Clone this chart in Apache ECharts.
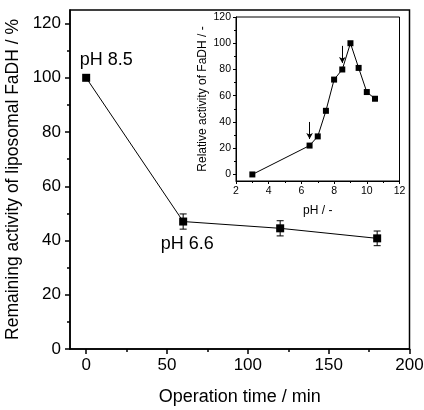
<!DOCTYPE html>
<html>
<head>
<meta charset="utf-8">
<script src="https://cdn.jsdelivr.net/npm/echarts@6/dist/echarts.min.js"></script>
<style>
html, body { margin: 0; padding: 0; background: #fff; }
#chart { width: 424px; height: 410px; }
</style>
</head>
<body>
<div id="chart"></div>
<script>
// main plot: remaining activity vs operation time
var timeMin = [0, 60, 120, 180];
var remaining = [100, 47, 44.5, 40.8];
var remainingErr = [0, 2.8, 2.8, 2.7];
var pointLabels = ['pH 8.5', 'pH 6.6', '', ''];

// inset: relative activity vs pH
var pH = [3, 6.5, 7, 7.5, 8, 8.5, 9, 9.5, 10, 10.5];
var relActivity = [0, 22, 29, 48.5, 72.3, 80, 100, 81.2, 62.8, 57.7];
var arrowPH = [6.5, 8.5];

// ticks
var mainXTicks = [0, 50, 100, 150, 200];
var mainXMinor = [25, 75, 125, 175];
var mainYTicks = [0, 20, 40, 60, 80, 100, 120];
var mainYMinor = [10, 30, 50, 70, 90, 110];
var insetXTicks = [2, 4, 6, 8, 10, 12];
var insetXMinor = [3, 5, 7, 9, 11];
var insetYTicks = [0, 20, 40, 60, 80, 100, 120];
var insetYMinor = [10, 30, 50, 70, 90, 110];

var FONT = '"Liberation Sans", Arial, sans-serif';

function axis(dim, grid, min, max, ticks, fs, nfs, margin, tickLen, name, nameGap) {
    return {
        type: 'value', gridIndex: grid, min: min, max: max,
        position: dim == 'x' ? 'bottom' : 'left',
        name: name, nameLocation: 'middle', nameGap: nameGap,
        nameTextStyle: { fontFamily: FONT, fontSize: nfs, color: '#000' },
        axisLine: { show: true, onZero: false, lineStyle: { color: '#000', width: grid == 0 ? 1.5 : 1 } },
        axisTick: { show: true, inside: false, length: tickLen, customValues: ticks,
            lineStyle: { color: '#000', width: grid == 0 ? 1.5 : 1 } },
        axisLabel: { show: true, customValues: ticks, margin: margin,
            fontFamily: FONT, fontSize: fs, color: '#000' },
        splitLine: { show: false }
    };
}
// second axis just for the short minor ticks
function minorAxis(dim, grid, min, max, ticks, tickLen) {
    return {
        type: 'value', gridIndex: grid, min: min, max: max,
        position: dim == 'x' ? 'bottom' : 'left',
        axisLine: { show: false, onZero: false },
        axisTick: { show: true, inside: false, length: tickLen, customValues: ticks,
            lineStyle: { color: '#000', width: grid == 0 ? 1.5 : 1 } },
        axisLabel: { show: false },
        splitLine: { show: false }
    };
}

var mainData = timeMin.map(function (t, i) {
    var item = { value: [t, remaining[i]] };
    if (pointLabels[i]) {
        item.label = {
            show: true, formatter: pointLabels[i],
            position: i == 0 ? 'top' : 'bottom',
            offset: i == 0 ? [20, 0] : [4, 4],
            fontFamily: FONT, fontSize: 18, color: '#000'
        };
    }
    return item;
});

var errData = [];
for (var i = 0; i < timeMin.length; i++) {
    if (remainingErr[i] > 0) {
        errData.push([timeMin[i], remaining[i] - remainingErr[i], remaining[i] + remainingErr[i]]);
    }
}

function renderErr(params, api) {
    var x = api.value(0);
    var lo = api.coord([x, api.value(1)]);
    var hi = api.coord([x, api.value(2)]);
    var w = 3.5;
    var st = { stroke: '#000', lineWidth: 1 };
    return {
        type: 'group',
        children: [
            { type: 'line', shape: { x1: hi[0], y1: hi[1], x2: lo[0], y2: lo[1] }, style: st },
            { type: 'line', shape: { x1: hi[0] - w, y1: hi[1], x2: hi[0] + w, y2: hi[1] }, style: st },
            { type: 'line', shape: { x1: lo[0] - w, y1: lo[1], x2: lo[0] + w, y2: lo[1] }, style: st }
        ]
    };
}

var arrows = arrowPH.map(function (p) {
    var v = relActivity[pH.indexOf(p)];
    return [{ coord: [p, v + 18] }, { coord: [p, v + 5] }];
});

var chart = echarts.init(document.getElementById('chart'));
chart.setOption({
    animation: false,
    backgroundColor: '#fff',
    grid: [
        { left: 70, right: 14.5, top: 10, bottom: 61, outerBoundsMode: 'none', show: true, borderColor: '#000', borderWidth: 1.5, backgroundColor: 'transparent' },
        { left: 236, right: 24.5, top: 17, bottom: 229, outerBoundsMode: 'none', show: true, borderColor: '#000', borderWidth: 1, backgroundColor: '#fff' }
    ],
    xAxis: [
        axis('x', 0, -10, 200, mainXTicks, 17, 18, 8, 5, 'Operation time / min', 39),
        minorAxis('x', 0, -10, 200, mainXMinor, 3),
        axis('x', 1, 2, 12, insetXTicks, 10.5, 12, 5, 3, 'pH / -', 24),
        minorAxis('x', 1, 2, 12, insetXMinor, 2)
    ],
    yAxis: [
        axis('y', 0, 0, 125, mainYTicks, 17, 17.5, 9, 5, 'Remaining activity of liposomal FaDH / %', 39),
        minorAxis('y', 0, 0, 125, mainYMinor, 3),
        axis('y', 1, -5, 120, insetYTicks, 10.5, 12, 5, 3, 'Relative activity of FaDH / -', 27),
        minorAxis('y', 1, -5, 120, insetYMinor, 2)
    ],
    series: [
        {
            type: 'custom', xAxisIndex: 0, yAxisIndex: 0,
            renderItem: renderErr, data: errData, z: 1, silent: true
        },
        {
            type: 'line', xAxisIndex: 0, yAxisIndex: 0, data: mainData,
            symbol: 'rect', symbolSize: 8, z: 3,
            itemStyle: { color: '#000' },
            lineStyle: { color: '#000', width: 1 }
        },
        {
            type: 'line', xAxisIndex: 2, yAxisIndex: 2,
            data: pH.map(function (p, i) { return [p, relActivity[i]]; }),
            symbol: 'rect', symbolSize: 6, z: 3,
            itemStyle: { color: '#000' },
            lineStyle: { color: '#000', width: 1 },
            markLine: {
                silent: true, symbol: ['none', 'arrow'], symbolSize: [5, 6],
                lineStyle: { color: '#000', width: 1, type: 'solid' },
                label: { show: false },
                data: arrows
            }
        }
    ]
});
</script>
</body>
</html>
